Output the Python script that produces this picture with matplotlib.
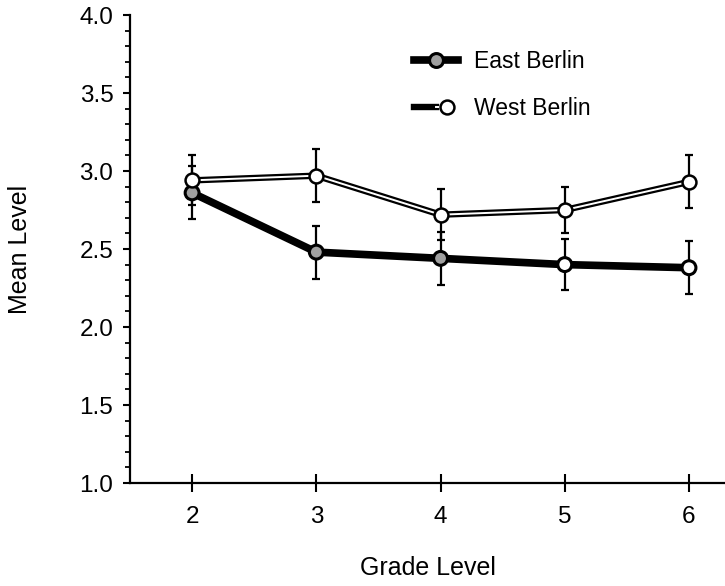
import matplotlib
matplotlib.use("Agg")
import matplotlib.pyplot as plt
from matplotlib.lines import Line2D
from matplotlib.legend_handler import HandlerTuple
from matplotlib.ticker import MultipleLocator

plt.rcParams['font.family'] = ['Liberation Sans', 'DejaVu Sans']

# data
grades = [2, 3, 4, 5, 6]
east_mean = [2.86, 2.48, 2.44, 2.40, 2.38]
east_err = [0.17, 0.17, 0.17, 0.165, 0.17]
west_mean = [2.94, 2.97, 2.72, 2.75, 2.93]
west_err = [0.16, 0.17, 0.165, 0.15, 0.17]
# the last two East markers print without the grey fill
east_face = ['#a0a0a0', '#a0a0a0', '#a0a0a0', 'white', 'white']

fig = plt.figure(figsize=(7.25, 5.86), dpi=100)
ax = fig.add_axes([130 / 725, 1 - 483 / 586, 1 - 130 / 725, (483 - 15) / 586])

# error bars
ax.errorbar(grades, east_mean, yerr=east_err, fmt='none', ecolor='black',
            elinewidth=1.6, capsize=3.2, capthick=1.6, zorder=2)
ax.errorbar(grades, west_mean, yerr=west_err, fmt='none', ecolor='black',
            elinewidth=1.6, capsize=3.2, capthick=1.6, zorder=2)

# east: thick black line
ax.plot(grades, east_mean, color='black', lw=5.5, solid_capstyle='round', zorder=3)
ax.scatter(grades, east_mean, s=100, c=east_face, edgecolors='black',
           linewidths=2.2, zorder=5)

# west: double line (black outline, white core)
ax.plot(grades, west_mean, color='black', lw=4.6, zorder=3)
ax.plot(grades, west_mean, color='white', lw=1.4, zorder=4)
ax.scatter(grades, west_mean, s=100, c='white', edgecolors='black',
           linewidths=1.8, zorder=5)

ax.set_xlim(1.5, 6.29)
ax.set_ylim(1.0, 4.0)
ax.set_xticks(grades)
ax.yaxis.set_major_locator(MultipleLocator(0.5))
ax.yaxis.set_minor_locator(MultipleLocator(0.1))
ax.yaxis.set_major_formatter(matplotlib.ticker.FormatStrFormatter('%.1f'))

for s in ['top', 'right']:
    ax.spines[s].set_visible(False)
ax.spines['left'].set_linewidth(1.6)
ax.spines['bottom'].set_linewidth(1.6)

ax.tick_params(axis='y', which='major', direction='out', length=5, width=1.5,
               labelsize=17.5, pad=7)
ax.tick_params(axis='y', which='minor', direction='out', length=3.5, width=1.3)
ax.tick_params(axis='x', which='major', direction='inout', length=13, width=1.5,
               labelsize=17.5, pad=10)

ax.set_xlabel('Grade Level', fontsize=18, labelpad=20)
ax.set_ylabel('Mean Level', fontsize=18, labelpad=34)

# legend
h_east = Line2D([], [], color='black', lw=5.5, marker='o', markersize=10,
                markerfacecolor='#a0a0a0', markeredgecolor='black',
                markeredgewidth=2.2)
h_west_out = Line2D([], [], color='black', lw=4.6)
h_west_in = Line2D([], [], color='white', lw=1.4, marker='o', markersize=10,
                   markerfacecolor='white', markeredgecolor='black',
                   markeredgewidth=1.8)
ax.legend([h_east, (h_west_out, h_west_in)], ['East Berlin', 'West Berlin'],
          handler_map={tuple: HandlerTuple(ndivide=None, pad=0)},
          loc='upper left', bbox_to_anchor=(0.442, 0.97), frameon=False,
          fontsize=16.5, handlelength=1.92, handletextpad=0.7, labelspacing=1.05)

fig.savefig('out.png', dpi=100)
